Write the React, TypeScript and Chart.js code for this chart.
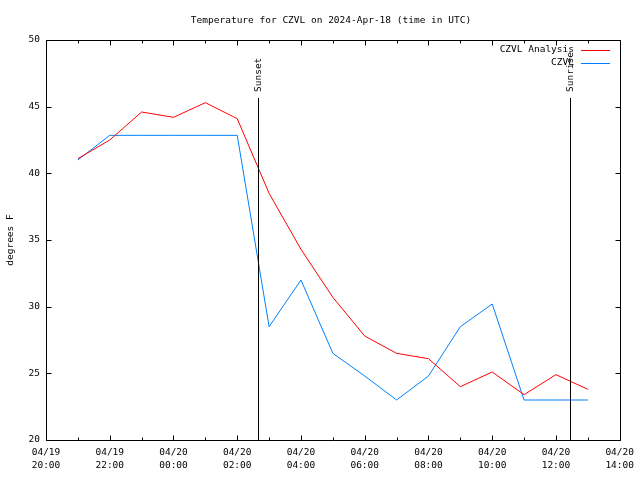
import React, { useEffect, useRef } from "react";
import { Chart, registerables } from "chart.js";

Chart.register(...registerables);

// Hours after 04/19 20:00 UTC
const xHours = [1, 2, 3, 4, 5, 6, 7, 8, 9, 10, 11, 12, 13, 14, 15, 16, 17];
const analysisTemps = [41.1, 42.5, 44.6, 44.2, 45.3, 44.1, 38.5, 34.3, 30.7, 27.8, 26.5, 26.1, 24.0, 25.1, 23.4, 24.9, 23.8];
const observedTemps = [41.0, 42.85, 42.85, 42.85, 42.85, 42.85, 28.5, 32.0, 26.5, 24.8, 23.0, 24.8, 28.5, 30.2, 23.0, 23.0, 23.0];
const xTickLabels = [
  ["04/19", "20:00"],
  ["04/19", "22:00"],
  ["04/20", "00:00"],
  ["04/20", "02:00"],
  ["04/20", "04:00"],
  ["04/20", "06:00"],
  ["04/20", "08:00"],
  ["04/20", "10:00"],
  ["04/20", "12:00"],
  ["04/20", "14:00"],
];
const seriesNames = ["CZVL Analysis", "CZVL"];
const seriesColors = ["#ff0000", "#0080ff"];
const sunEvents = [
  { label: "Sunset", hour: 6.65 },
  { label: "Sunrise", hour: 16.45 },
];
const titleText = "Temperature for CZVL on 2024-Apr-18 (time in UTC)";
const yTitle = "degrees F";

const FONT = '"DejaVu Sans Mono", monospace';

const gnuplotPlugin = {
  id: "gnuplotDecor",
  afterDraw(chart: any) {
    const ctx = chart.ctx;
    const { left, right, top, bottom } = chart.chartArea;
    const L = Math.round(left) + 0.5;
    const R = Math.round(right) + 0.5;
    const T = Math.round(top) + 0.5;
    const B = Math.round(bottom) + 0.5;
    const xs = chart.scales.x;
    const ys = chart.scales.y;
    ctx.save();
    ctx.strokeStyle = "#000";
    ctx.lineWidth = 1;
    // frame
    ctx.beginPath();
    ctx.rect(L, T, R - L, B - T);
    ctx.stroke();
    // x ticks
    ctx.beginPath();
    xs.ticks.forEach((t: any) => {
      const px = Math.round(xs.getPixelForValue(t.value)) + 0.5;
      const len = t.value % 2 === 0 ? 5 : 3;
      ctx.moveTo(px, B);
      ctx.lineTo(px, B - len);
      ctx.moveTo(px, T);
      ctx.lineTo(px, T + len);
    });
    ys.ticks.forEach((t: any) => {
      const py = Math.round(ys.getPixelForValue(t.value)) + 0.5;
      ctx.moveTo(L, py);
      ctx.lineTo(L + 5, py);
      ctx.moveTo(R, py);
      ctx.lineTo(R - 5, py);
    });
    ctx.stroke();

    // sun events
    ctx.font = `9.5px ${FONT}`;
    ctx.fillStyle = "#000";
    sunEvents.forEach((ev) => {
      const px = Math.round(xs.getPixelForValue(ev.hour)) + 0.5;
      ctx.beginPath();
      ctx.moveTo(px, 98);
      ctx.lineTo(px, B);
      ctx.stroke();
      ctx.save();
      ctx.translate(px, 92);
      ctx.rotate(-Math.PI / 2);
      ctx.textAlign = "left";
      ctx.textBaseline = "middle";
      ctx.fillText(ev.label, 0, 0);
      ctx.restore();
    });

    // legend
    ctx.textAlign = "right";
    ctx.textBaseline = "middle";
    seriesNames.forEach((name, i) => {
      const y = 49.5 + i * 13;
      ctx.fillStyle = "#000";
      ctx.fillText(name, 574, y + 0.5);
      ctx.strokeStyle = seriesColors[i];
      ctx.beginPath();
      ctx.moveTo(581, Math.round(y) + 0.5);
      ctx.lineTo(610, Math.round(y) + 0.5);
      ctx.stroke();
    });

    // title
    ctx.fillStyle = "#000";
    ctx.textAlign = "center";
    ctx.textBaseline = "middle";
    ctx.fillText(titleText, 331, 21);

    // y title
    ctx.save();
    ctx.translate(11, 240);
    ctx.rotate(-Math.PI / 2);
    ctx.textAlign = "center";
    ctx.textBaseline = "middle";
    ctx.fillText(yTitle, 0, 0);
    ctx.restore();

    ctx.restore();
  },
};

export default function App() {
  const ref = useRef<HTMLCanvasElement>(null);
  useEffect(() => {
    if (!ref.current) return;
    const chart = new Chart(ref.current, {
      type: "line",
      data: {
        datasets: [analysisTemps, observedTemps].map((vals, i) => ({
          label: seriesNames[i],
          data: xHours.map((h, j) => ({ x: h, y: vals[j] })),
          borderColor: seriesColors[i],
          backgroundColor: seriesColors[i],
          borderWidth: 1,
          pointRadius: 0,
          tension: 0,
          fill: false,
        })),
      },
      options: {
        responsive: false,
        animation: false,
        devicePixelRatio: 1,
        layout: { padding: { left: 0, right: 19, top: 40, bottom: 0 } },
        plugins: {
          legend: { display: false },
          title: { display: false },
          tooltip: { enabled: false },
        },
        scales: {
          x: {
            type: "linear",
            min: 0,
            max: 18,
            grid: { display: false, drawTicks: false },
            border: { display: false },
            afterFit: (s: any) => {
              s.height = 40;
            },
            ticks: {
              stepSize: 1,
              autoSkip: false,
              maxRotation: 0,
              minRotation: 0,
              padding: 6,
              color: "#000",
              font: { family: FONT, size: 9.5, lineHeight: 1.37 },
              callback: (v: any) => {
                const n = Number(v);
                return n % 2 === 0 ? xTickLabels[n / 2] : "";
              },
            },
          },
          y: {
            min: 20,
            max: 50,
            grid: { display: false, drawTicks: false },
            border: { display: false },
            afterFit: (s: any) => {
              s.width = 46;
            },
            ticks: {
              stepSize: 5,
              padding: 6,
              color: "#000",
              font: { family: FONT, size: 9.5 },
            },
          },
        },
      },
      plugins: [gnuplotPlugin],
    } as any);
    return () => chart.destroy();
  }, []);
  return (
    <div style={{ position: "fixed", left: 0, top: 0, width: 640, height: 480, background: "#fff" }}>
      <canvas ref={ref} width={640} height={480} />
    </div>
  );
}
